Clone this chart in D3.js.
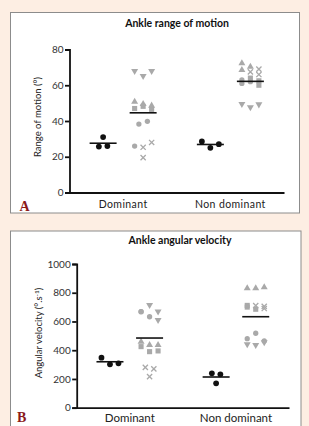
<!DOCTYPE html>
<html>
<head>
<meta charset="utf-8">
<script src="https://cdn.jsdelivr.net/npm/d3@7"></script>
<style>
  body { margin: 0; background: #fdeee3; }
  svg { display: block; }
  text { font-family: Lato, "Open Sans", sans-serif; }
</style>
</head>
<body>
<div id="vis-container"></div>
<script>
// categories on the x axis
const categories = ["Dominant", "Non dominant"];
const groups = ["control", "subjects"];

// panel A - ankle range of motion (deg)
const romTicks = [0, 20, 40, 60, 80];
const romDomBlack = [31, 25.7, 26];
const romDomCircle = [26, 38.3, 39.8];
const romDomSquare = [47, 48.2, 46.5];
const romDomTriUp = [50.8, 49.5, 48.6];
const romDomTriDown = [68, 65.2, 68];
const romDomCross = [25.3, 28, 19.5];
const romNonBlack = [28.6, 25, 27];
const romNonCircle = [61, 62, 63];
const romNonSquare = [64, 60, 62.5];
const romNonTriUp = [72.3, 70.4, 68.5];
const romNonTriDown = [49.5, 47.7, 49.3];
const romNonCross = [69, 67.5, 66];

// panel B - ankle angular velocity (deg/s)
const velTicks = [0, 200, 400, 600, 800, 1000];
const velDomBlack = [348, 302, 309];
const velDomCircle = [668, 668, 633];
const velDomSquare = [425, 390, 395];
const velDomTriUp = [459, 436, 436];
const velDomTriDown = [715, 670, 610];
const velDomCross = [216, 281, 270];
const velNonBlack = [239, 232, 170];
const velNonCircle = [480, 518, 465];
const velNonSquare = [700, 685, 712];
const velNonTriUp = [831, 831, 838];
const velNonTriDown = [441, 436, 455];
const velNonCross = [710, 690, 705];

const grey = "#a9a9a9";

// build the subject group from the five marker arrays
const subjectPoints = (circle, square, triUp, triDown, cross) => {
  let pts = [];
  [["circle", circle], ["square", square], ["triUp", triUp], ["triDown", triDown], ["cross", cross]]
    .forEach(([shape, vals]) => vals.forEach((v) => pts.push({ v: v, shape: shape })));
  pts.forEach((p, i) => (p.i = i));
  return pts;
};
const blackPoints = (vals) => vals.map((v, i) => ({ v: v, shape: "dot", i: i }));

// spread points that sit at a similar height into rows (like a scatter dot plot)
const dodge = (points, y, step, thresh) => {
  const sorted = points.slice().sort((a, b) => a.v - b.v);
  let rows = [], row = [];
  sorted.forEach((p) => {
    if (row.length && (row.length >= 3 || Math.abs(y(p.v) - y(row[row.length - 1].v)) > thresh)) {
      rows.push(row);
      row = [];
    }
    row.push(p);
  });
  if (row.length) rows.push(row);
  rows.forEach((r) => {
    r.sort((a, b) => a.i - b.i);
    r.forEach((p, k) => (p.dx = (k - (r.length - 1) / 2) * step));
  });
  return points;
};

var svg = d3
  .select("#vis-container")
  .append("svg")
  .attr("width", 309)
  .attr("height", 426);

const drawPanel = (cfg) => {
  // panel frame
  svg
    .append("rect")
    .attr("x", cfg.box[0])
    .attr("y", cfg.box[1])
    .attr("width", cfg.box[2])
    .attr("height", cfg.box[3])
    .attr("fill", "#fff")
    .attr("stroke", "#8c8c8c")
    .attr("stroke-width", 1);

  const g = svg.append("g");

  const y = d3.scaleLinear().domain([0, d3.max(cfg.ticks)]).range([cfg.bottom, cfg.top]);
  const x0 = d3.scaleBand().domain(categories).range([cfg.left, cfg.right]);
  const x1 = d3.scalePoint().domain(groups).range([0, x0.bandwidth()]).padding(0.84);

  // y axis
  const yAxis = g
    .append("g")
    .attr("transform", "translate(" + cfg.left + ",0)")
    .call(
      d3.axisLeft(y).tickValues(cfg.ticks).tickFormat(d3.format("d"))
        .tickSizeOuter(0).tickSize(4.5).tickPadding(1.5)
    );
  yAxis.selectAll("path, line").attr("stroke", "#111").attr("stroke-width", 1.8);
  yAxis.selectAll("text").attr("fill", "#333").style("font-size", cfg.tickFont + "px");

  // x axis, no ticks
  const xAxis = g
    .append("g")
    .attr("transform", "translate(0," + cfg.bottom + ")")
    .call(d3.axisBottom(x0).tickSize(0).tickPadding(cfg.xPad));
  xAxis.select("path").attr("stroke", "#111").attr("stroke-width", 1.8);
  xAxis
    .selectAll("text")
    .attr("fill", "#222")
    .style("font-size", cfg.xFont + "px")
    .style("letter-spacing", cfg.xSpacing + "px");

  // title
  g.append("text")
    .attr("x", cfg.titleX)
    .attr("y", cfg.titleY)
    .attr("text-anchor", "middle")
    .style("font-size", "10.5px")
    .style("font-weight", "bold")
    .attr("fill", "#111")
    .text(cfg.title);

  // y label
  const yl = g
    .append("text")
    .attr("transform", "translate(" + cfg.yLabelX + "," + cfg.yLabelY + ") rotate(-90)")
    .attr("text-anchor", "middle")
    .attr("fill", "#222")
    .style("font-size", cfg.yLabelFont + "px");
  cfg.yLabel(yl);

  // panel letter
  g.append("text")
    .attr("x", cfg.letterX)
    .attr("y", cfg.letterY)
    .attr("fill", "#8b1a1a")
    .style("font-family", "'Liberation Serif', 'DejaVu Serif', serif")
    .style("font-weight", "bold")
    .style("font-size", "14px")
    .text(cfg.letter);

  const symbols = {
    dot: d3.symbol().type(d3.symbolCircle).size(26),
    circle: d3.symbol().type(d3.symbolCircle).size(22),
    square: d3.symbol().type(d3.symbolSquare).size(26),
    triUp: d3.symbol().type(d3.symbolTriangle).size(21),
    triDown: d3.symbol().type(d3.symbolTriangle).size(21),
  };

  cfg.data.forEach((d) => {
    const cx = x0(d.category) + x1(d.group);
    const pts = dodge(d.points, y, 8.5, 7);
    const color = d.group === "control" ? "#111" : grey;

    g.selectAll(null)
      .data(pts)
      .enter()
      .append("path")
      .attr("d", (p) =>
        p.shape === "cross"
          ? "M-2.6,-2.6L2.6,2.6M-2.6,2.6L2.6,-2.6"
          : symbols[p.shape]()
      )
      .attr("transform", (p) =>
        "translate(" + (cx + p.dx) + "," + y(p.v) + ")" + (p.shape === "triDown" ? " rotate(180)" : "")
      )
      .attr("fill", (p) => (p.shape === "cross" ? "none" : color))
      .attr("stroke", (p) => (p.shape === "cross" ? color : "none"))
      .attr("stroke-width", 1.3);

    // mean line
    const m = d3.mean(pts, (p) => p.v);
    g.append("line")
      .attr("x1", cx - 13.5)
      .attr("x2", cx + 13.5)
      .attr("y1", y(m))
      .attr("y2", y(m))
      .attr("stroke", "#111")
      .attr("stroke-width", 1.6);
  });
};

drawPanel({
  box: [10.5, 12.5, 289, 200.5],
  left: 69.5, right: 284, top: 49.5, bottom: 192.5,
  ticks: romTicks, tickFont: 10,
  xFont: 10.5, xSpacing: 0.4, xPad: 8,
  title: "Ankle range of motion", titleX: 177, titleY: 27,
  yLabelX: 41, yLabelY: 117, yLabelFont: 9.5,
  yLabel: (t) => t.text("Range of motion (°)"),
  letter: "A", letterX: 19.5, letterY: 211,
  data: [
    { category: categories[0], group: "control", points: blackPoints(romDomBlack) },
    { category: categories[0], group: "subjects", points: subjectPoints(romDomCircle, romDomSquare, romDomTriUp, romDomTriDown, romDomCross) },
    { category: categories[1], group: "control", points: blackPoints(romNonBlack) },
    { category: categories[1], group: "subjects", points: subjectPoints(romNonCircle, romNonSquare, romNonTriUp, romNonTriDown, romNonCross) },
  ],
});

drawPanel({
  box: [10.5, 231, 290.5, 210],
  left: 76.7, right: 289, top: 264, bottom: 407.7,
  ticks: velTicks, tickFont: 10,
  xFont: 11.5, xSpacing: 0, xPad: 6,
  title: "Ankle angular velocity", titleX: 180, titleY: 244,
  yLabelX: 42, yLabelY: 333, yLabelFont: 9.5,
  yLabel: (t) => {
    t.append("tspan").text("Angular velocity (°.s");
    t.append("tspan").attr("dy", -3.5).style("font-size", "6.5px").text("-1");
    t.append("tspan").attr("dy", 3.5).text(")");
  },
  letter: "B", letterX: 17, letterY: 422,
  data: [
    { category: categories[0], group: "control", points: blackPoints(velDomBlack) },
    { category: categories[0], group: "subjects", points: subjectPoints(velDomCircle, velDomSquare, velDomTriUp, velDomTriDown, velDomCross) },
    { category: categories[1], group: "control", points: blackPoints(velNonBlack) },
    { category: categories[1], group: "subjects", points: subjectPoints(velNonCircle, velNonSquare, velNonTriUp, velNonTriDown, velNonCross) },
  ],
});
</script>
</body>
</html>
